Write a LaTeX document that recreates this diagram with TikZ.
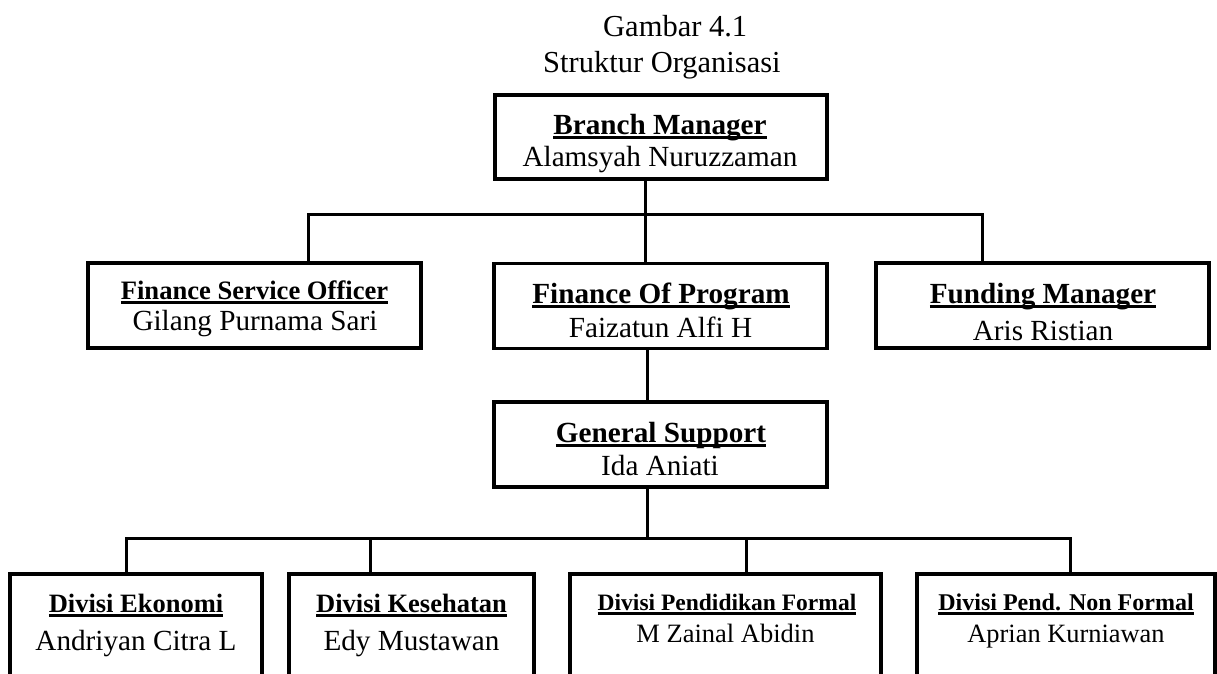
\documentclass[tikz,border=0pt]{standalone}
\usepackage{fontspec}
\setmainfont{Liberation Serif}
\newcommand\myul[1]{\setbox0=\hbox{#1}\rlap{\rule[-5pt]{\wd0}{2.6pt}}\box0}
\begin{document}
\begin{tikzpicture}[x=1pt,y=-1pt,
  box/.style={draw, line width=3.2pt, inner sep=0pt, outer sep=0pt, minimum width=#1, minimum height=85pt},
  lowbox/.style={draw, line width=3.2pt, inner sep=0pt, outer sep=0pt, minimum width=#1, minimum height=146pt},
  conn/.style={line width=3pt, line cap=rect},
  ttl/.style={anchor=base, inner sep=0pt, font=\bfseries\fontsize{29.2}{35}\selectfont},
  nm/.style={anchor=base, inner sep=0pt, font=\fontsize{29.2}{35}\selectfont},
  captxt/.style={anchor=base west, inner sep=0pt, font=\fontsize{30.5}{36}\selectfont}
]
\fill[white] (0,0) rectangle (1217,673);
\useasboundingbox (0,0) rectangle (1217,673);
\clip (0,0) rectangle (1217,673);

% caption
\node[captxt] (cap1) at (603,36) {Gambar 4.1};
\node[captxt] (cap2) at (543,72) {Struktur Organisasi};

% boxes
\node[box=332pt, minimum height=84pt] (bm) at (661,137) {};
\node[box=333pt] (fso) at (254.5,305.5) {};
\node[box=333pt] (fop) at (660.5,306) {};
\node[box=333pt] (fund) at (1042.5,305.5) {};
\node[box=333pt] (gs) at (660.5,444.5) {};
\node[lowbox=252pt] (dv1) at (136,647) {};
\node[lowbox=245pt] (dv2) at (411.5,647) {};
\node[lowbox=311pt] (dv3) at (725.5,647) {};
\node[lowbox=298pt] (dv4) at (1066,647) {};

% texts
\node[ttl] (bmT) at (660,134) {\myul{Branch Manager}};
\node[nm] (bmN) at (660,166) {Alamsyah Nuruzzaman};
\node[ttl, font=\bfseries\fontsize{26.6}{32}\selectfont] (fsoT) at (254.5,299) {\myul{Finance Service Officer}};
\node[nm] (fsoN) at (255,330) {Gilang Purnama Sari};
\node[ttl] (fopT) at (661,303) {\myul{Finance Of Program}};
\node[nm] (fopN) at (660.5,337) {Faizatun Alfi H};
\node[ttl] (fundT) at (1043,303) {\myul{Funding Manager}};
\node[nm] (fundN) at (1043,340) {Aris Ristian};
\node[ttl] (gsT) at (661,442) {\myul{General Support}};
\node[nm] (gsN) at (660,475) {Ida Aniati};
\node[ttl, font=\bfseries\fontsize{26.5}{32}\selectfont] (dv1T) at (136,612) {\myul{Divisi Ekonomi}};
\node[nm] (dv1N) at (136,650) {Andriyan Citra L};
\node[ttl, font=\bfseries\fontsize{26.5}{32}\selectfont] (dv2T) at (411.5,612) {\myul{Divisi Kesehatan}};
\node[nm] (dv2N) at (411.5,650) {Edy Mustawan};
\node[ttl, font=\bfseries\fontsize{23.5}{28}\selectfont] (dv3T) at (727,610) {\myul{Divisi Pendidikan Formal}};
\node[nm, font=\fontsize{26.5}{32}\selectfont] (dv3N) at (725.5,642) {M Zainal Abidin};
\node[ttl, font=\bfseries\fontsize{24}{29}\selectfont] (dv4T) at (1066,610) {\myul{Divisi Pend. Non Formal}};
\node[nm, font=\fontsize{26.4}{32}\selectfont] (dv4N) at (1066,642) {Aprian Kurniawan};

% connectors level 1
\coordinate (j1) at (645,214);
\coordinate (b1L) at (308,214);
\coordinate (b1R) at (982,214);
\draw[conn] (bm.south -| j1) -- (j1);
\draw[conn] (b1L) -- (b1R);
\draw[conn] (b1L) -- (b1L |- fso.north);
\draw[conn] (j1) -- (j1 |- fop.north);
\draw[conn] (b1R) -- (b1R |- fund.north);

% connectors level 2
\coordinate (k2) at (647,538);
\draw[conn] (fop.south -| k2) -- (gs.north -| k2);
\draw[conn] (gs.south -| k2) -- (k2);

% connectors level 3
\coordinate (b2L) at (126,538);
\coordinate (b2R) at (1070,538);
\coordinate (d2) at (370,538);
\coordinate (d3) at (746,538);
\draw[conn] (b2L) -- (b2R);
\draw[conn] (b2L) -- (b2L |- dv1.north);
\draw[conn] (d2) -- (d2 |- dv2.north);
\draw[conn] (d3) -- (d3 |- dv3.north);
\draw[conn] (b2R) -- (b2R |- dv4.north);
\end{tikzpicture}
\end{document}
